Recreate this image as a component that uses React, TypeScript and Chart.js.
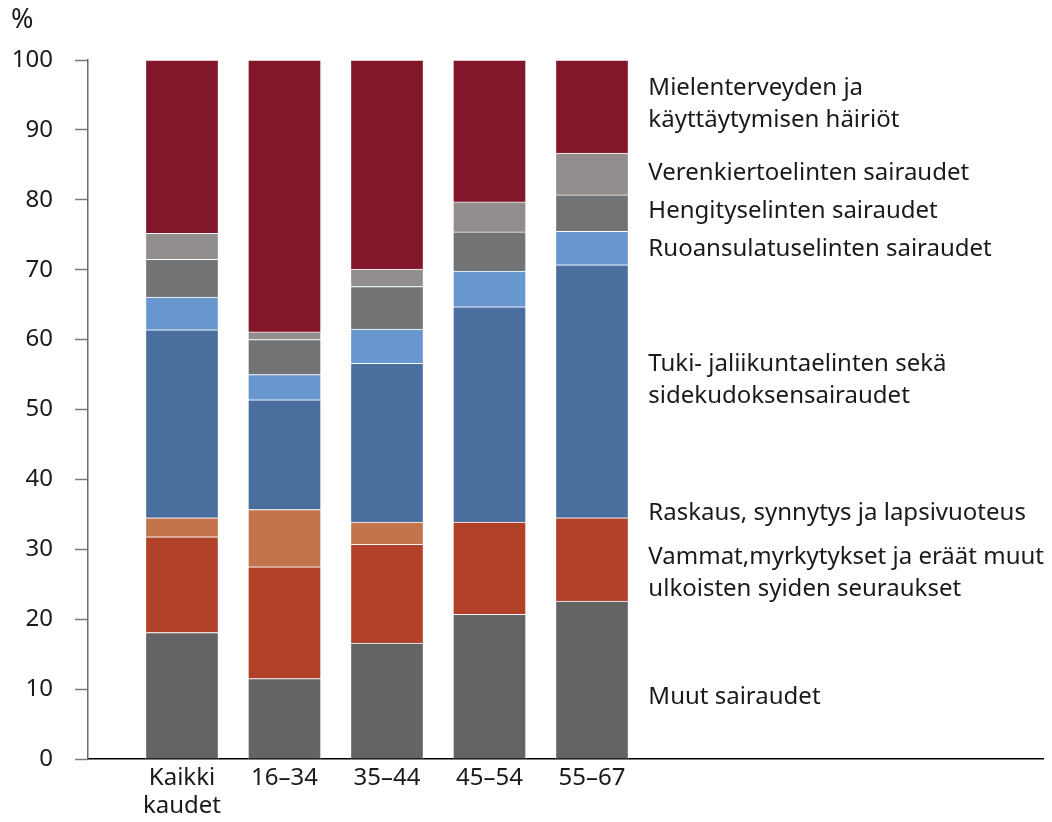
import React, { useEffect, useRef } from 'react';
import { Chart, registerables } from 'chart.js';

Chart.register(...registerables);

// ---- data ----
const categories: (string | string[])[] = [['Kaikki', 'kaudet'], '16–34', '35–44', '45–54', '55–67'];
const yTickValues = [0, 10, 20, 30, 40, 50, 60, 70, 80, 90, 100];

const muut = [18.1, 11.5, 16.6, 20.7, 22.6];
const vammat = [13.7, 16.0, 14.1, 13.2, 11.9];
const raskaus = [2.7, 8.2, 3.2, 0, 0];
const tuki = [26.9, 15.7, 22.7, 30.8, 36.2];
const ruoansulatus = [4.7, 3.6, 4.9, 5.1, 4.8];
const hengitys = [5.4, 5.0, 6.1, 5.6, 5.2];
const verenkierto = [3.7, 1.1, 2.5, 4.3, 6.0];
const mielenterveys = [24.8, 38.9, 29.9, 20.3, 13.3];

const seriesNames = [
  'Muut sairaudet',
  'Vammat,myrkytykset ja eräät muut ulkoisten syiden seuraukset',
  'Raskaus, synnytys ja lapsivuoteus',
  'Tuki- jaliikuntaelinten sekä sidekudoksensairaudet',
  'Ruoansulatuselinten sairaudet',
  'Hengityselinten sairaudet',
  'Verenkiertoelinten sairaudet',
  'Mielenterveyden ja käyttäytymisen häiriöt',
];
const seriesValues = [muut, vammat, raskaus, tuki, ruoansulatus, hengitys, verenkierto, mielenterveys];

// right-hand labels (text lines), anchored at a y value
const sideLabelLines = [
  ['Mielenterveyden ja', 'käyttäytymisen häiriöt'],
  ['Verenkiertoelinten sairaudet'],
  ['Hengityselinten sairaudet'],
  ['Ruoansulatuselinten sairaudet'],
  ['Tuki- jaliikuntaelinten sekä', 'sidekudoksensairaudet'],
  ['Raskaus, synnytys ja lapsivuoteus'],
  ['Vammat,myrkytykset ja eräät muut', 'ulkoisten syiden seuraukset'],
  ['Muut sairaudet'],
];
const sideLabelAt = [96.0, 83.8, 78.4, 72.9, 56.5, 35.1, 28.9, 8.8];

// ---- styles ----
const FONT = '"Noto Sans", "Open Sans", sans-serif';
const colors = ['#646464', '#B14128', '#C4744D', '#4A6E9E', '#6897CF', '#727374', '#918E8D', '#82172B'];
const TEXT = '#1a1a1a';

const sideLabelsPlugin = {
  id: 'sideLabels',
  afterDraw(chart: any) {
    const { ctx, scales } = chart;
    const x = scales.x;
    const y = scales.y;
    ctx.save();
    ctx.font = `24px ${FONT}`;
    ctx.fillStyle = TEXT;
    ctx.textAlign = 'left';
    ctx.textBaseline = 'middle';
    const lx = x.getPixelForValue(4.55);
    sideLabelLines.forEach((lines, i) => {
      const py = y.getPixelForValue(sideLabelAt[i]);
      lines.forEach((t, k) => ctx.fillText(t, lx, py + k * 32));
    });
    ctx.font = `27px ${FONT}`;
    ctx.fillText('%', 11, y.getPixelForValue(100) - 40);
    ctx.restore();
  },
};

export default function App() {
  const ref = useRef<HTMLCanvasElement>(null);
  useEffect(() => {
    document.body.style.margin = '0';
    const chart = new Chart(ref.current as HTMLCanvasElement, {
      type: 'bar',
      data: {
        datasets: seriesValues.map((vals, i) => ({
          label: seriesNames[i],
          data: vals.map((v, j) => ({ x: j, y: v })),
          backgroundColor: colors[i],
          borderColor: 'rgba(255,255,255,0.85)',
          borderWidth: 1,
          barThickness: 73,
        })),
      },
      options: {
        responsive: false,
        animation: false,
        layout: { padding: { left: 0, top: 60, right: 9, bottom: 0 } },
        plugins: { legend: { display: false }, tooltip: { enabled: false } },
        scales: {
          x: {
            type: 'linear',
            stacked: true,
            offset: false,
            min: -0.917,
            max: 8.4,
            afterFit: (s: any) => { s.height = 63; },
            afterBuildTicks: (s: any) => { s.ticks = categories.map((_, i) => ({ value: i })); },
            grid: { display: false, drawTicks: false },
            border: { display: true, color: '#000000', width: 1.5 },
            ticks: {
              autoSkip: false,
              maxRotation: 0,
              padding: 5,
              color: TEXT,
              font: { family: FONT, size: 24, lineHeight: 1.17 },
              callback: (v: any) =>
                Number.isInteger(v) && v >= 0 && v < categories.length ? (categories[v] as any) : '',
            },
          },
          y: {
            stacked: true,
            min: 0,
            max: 100,
            afterFit: (s: any) => { s.width = 88; },
            afterBuildTicks: (s: any) => { s.ticks = yTickValues.map((v) => ({ value: v })); },
            grid: { drawOnChartArea: false, drawTicks: true, tickLength: 13, tickColor: '#7a7a7a', tickWidth: 1.5 },
            border: { display: true, color: '#6a6a6a', width: 1.5 },
            ticks: {
              padding: 22,
              color: TEXT,
              font: { family: FONT, size: 24 },
            },
          },
        },
      },
      plugins: [sideLabelsPlugin],
    } as any);
    return () => chart.destroy();
  }, []);
  return (
    <div style={{ width: 1052, height: 822 }}>
      <canvas ref={ref} width={1052} height={822} />
    </div>
  );
}
